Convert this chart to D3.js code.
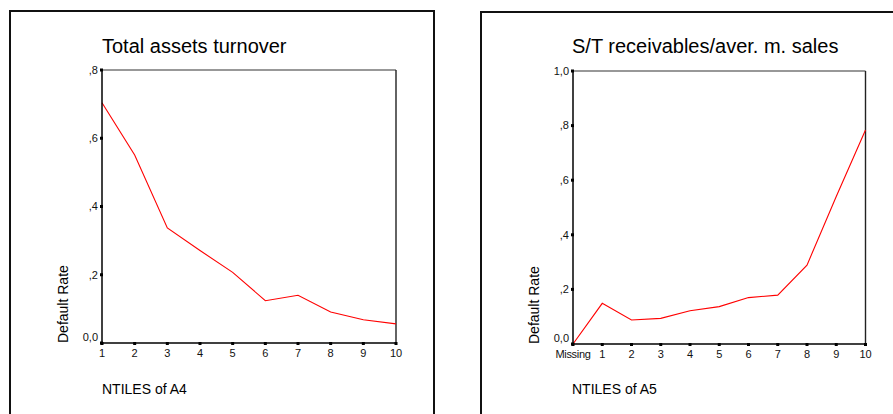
<!DOCTYPE html>
<html>
<head>
<meta charset="utf-8">
<script src="https://cdn.jsdelivr.net/npm/d3@7/dist/d3.min.js"></script>
<style>
  html, body { margin: 0; padding: 0; background: #fff; }
  svg { display: block; font-family: "Liberation Sans", Arial, sans-serif; }
</style>
</head>
<body>
<svg id="chart" width="893" height="414"></svg>
<script>
// ---- Data ----
const leftTitle = "Total assets turnover";
const leftXLabel = "NTILES of A4";
const leftCategories = ["1", "2", "3", "4", "5", "6", "7", "8", "9", "10"];
const leftValues = [0.704, 0.551, 0.337, 0.271, 0.207, 0.124, 0.140, 0.091, 0.068, 0.056];
const leftYTicks = [0, 0.2, 0.4, 0.6, 0.8];
const leftYTickLabels = ["0,0", ",2", ",4", ",6", ",8"];

const rightTitle = "S/T receivables/aver. m. sales";
const rightXLabel = "NTILES of A5";
const rightCategories = ["Missing", "1", "2", "3", "4", "5", "6", "7", "8", "9", "10"];
const rightValues = [0.0, 0.149, 0.088, 0.094, 0.122, 0.137, 0.170, 0.179, 0.289, 0.540, 0.784];
const rightYTicks = [0, 0.2, 0.4, 0.6, 0.8, 1.0];
const rightYTickLabels = ["0,0", ",2", ",4", ",6", ",8", "1,0"];

const yLabel = "Default Rate";

const svg = d3.select("#chart");

// Panel frames
svg.append("rect").attr("x", 10).attr("y", 11).attr("width", 424).attr("height", 430)
  .attr("fill", "none").attr("stroke", "#111").attr("stroke-width", 2);
svg.append("rect").attr("x", 481).attr("y", 12).attr("width", 450).attr("height", 430)
  .attr("fill", "none").attr("stroke", "#111").attr("stroke-width", 2);

function drawPanel(opts) {
  const { left, right, top, bottom, categories, values, yMax, yTicks, yTickLabels,
          title, titleX, xLabel, yLabelX } = opts;
  const g = svg.append("g");
  const x = d3.scalePoint().domain(categories).range([left, right]).padding(0);
  const y = d3.scaleLinear().domain([0, yMax]).range([bottom, top]);

  // plot frame: top/right
  g.append("line").attr("x1", left).attr("x2", right).attr("y1", top).attr("y2", top)
    .attr("stroke", "#333").attr("stroke-width", 1.2);
  g.append("line").attr("x1", right).attr("x2", right).attr("y1", top).attr("y2", bottom)
    .attr("stroke", "#222").attr("stroke-width", 1.4);

  // line
  const line = d3.line().x((d, i) => x(categories[i])).y(d => y(d));
  g.append("path").datum(values).attr("d", line)
    .attr("fill", "none").attr("stroke", "#ff0000").attr("stroke-width", 1.1);

  // axes lines
  g.append("line").attr("x1", left).attr("x2", left).attr("y1", top).attr("y2", bottom)
    .attr("stroke", "#000").attr("stroke-width", 1.5);
  g.append("line").attr("x1", left).attr("x2", right).attr("y1", bottom).attr("y2", bottom)
    .attr("stroke", "#000").attr("stroke-width", 1.5);

  // y ticks
  yTicks.forEach((t, i) => {
    g.append("rect").attr("x", left - 2).attr("y", y(t) - 1.5).attr("width", 3).attr("height", 3)
      .attr("fill", "#000");
    g.append("text").attr("x", left - 4).attr("y", y(t)).attr("dy", i === 0 ? "-0.15em" : "0.35em")
      .attr("text-anchor", "end").attr("font-size", 11).attr("fill", "#111").text(yTickLabels[i]);
  });
  // x ticks
  categories.forEach(c => {
    g.append("rect").attr("x", x(c) - 1.5).attr("y", bottom - 1).attr("width", 3).attr("height", 3)
      .attr("fill", "#000");
    g.append("text").attr("x", x(c)).attr("y", bottom + 14)
      .attr("text-anchor", "middle").attr("font-size", 11).attr("fill", "#111")
      .attr("letter-spacing", c === "Missing" ? "-0.3" : null).text(c);
  });

  // titles
  g.append("text").attr("x", titleX).attr("y", 53).attr("font-size", 20).attr("fill", "#000").text(title);
  g.append("text").attr("x", titleX).attr("y", 394).attr("font-size", 14).attr("fill", "#000").text(xLabel);
  g.append("text").attr("transform", `translate(${yLabelX},${bottom}) rotate(-90)`)
    .attr("font-size", 14).attr("fill", "#000").text(yLabel);
}

drawPanel({
  left: 102, right: 396, top: 70, bottom: 343,
  categories: leftCategories, values: leftValues, yMax: 0.8,
  yTicks: leftYTicks, yTickLabels: leftYTickLabels,
  title: leftTitle, titleX: 102, xLabel: leftXLabel, yLabelX: 68
});

drawPanel({
  left: 573, right: 865.5, top: 71, bottom: 344,
  categories: rightCategories, values: rightValues, yMax: 1.0,
  yTicks: rightYTicks, yTickLabels: rightYTickLabels,
  title: rightTitle, titleX: 572, xLabel: rightXLabel, yLabelX: 539
});
</script>
</body>
</html>
